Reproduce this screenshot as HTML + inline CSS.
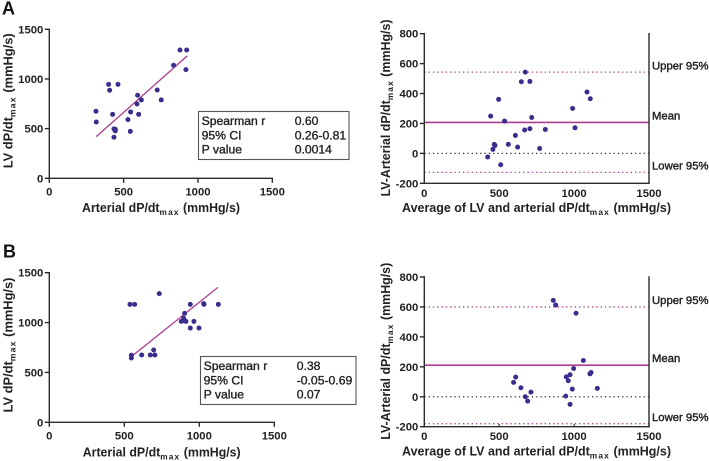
<!DOCTYPE html>
<html>
<head>
<meta charset="utf-8">
<style>
html,body{margin:0;padding:0;background:#fff;width:709px;height:461px;overflow:hidden}
svg{display:block;filter:blur(.3px)}
text{font-family:"Liberation Sans",sans-serif;fill:#222}
.tick{font-size:11.3px;font-weight:bold}
.title{font-size:12.7px;font-weight:bold}
.stat{font-size:12.2px;stroke:#222;stroke-width:.35px}
.ref{font-size:11.3px;stroke:#222;stroke-width:.4px}
.panel{font-size:18px;font-weight:bold;fill:#111}
</style>
</head>
<body>
<svg id="chart" xmlns="http://www.w3.org/2000/svg" width="709" height="461" viewBox="0 0 709 461"></svg>
<script>
const xTicksAll = [0, 500, 1000, 1500];
const yTicksCorr = [0, 500, 1000, 1500];
const yTicksDiff = [-200, 0, 200, 400, 600, 800];

const corrAX = [314,316,399,406,462,426,529,547,545,594,590,601,619,435,435,444,444,726,753,836,879,924,919];
const corrAY = [675,567,946,886,946,644,591,668,473,836,748,644,789,413,497,493,477,889,789,1138,1292,1292,1094];
const fitAX = [316, 928];
const fitAY = [420, 1232];
const statsALabels = ['Spearman r', '95% CI', 'P value'];
const statsAValues = ['0.60', '0.26-0.81', '0.0014'];

const diffAX = [423,443,458,467,472,496,510,536,561,608,623,648,674,705,670,705,717,770,808,990,1006,1086,1108];
const diffAY = [-24,249,27,60,53,361,-76,216,60,120,42,479,543,481,156,165,240,33,160,301,171,410,365];
const limitsA = [543, 207, 0, -127];

const corrBX = [538,569,733,547,547,616,673,704,696,880,896,898,911,902,940,1029,1031,1127,964,940,998];
const corrBY = [1183,1183,1290,672,645,675,675,675,725,1012,1042,1019,1012,1092,1183,1190,1183,1183,1012,945,945];
const fitBX = [547, 1124];
const fitBY = [658, 1353];
const statsBLabels = ['Spearman r', '95% CI', 'P value'];
const statsBValues = ['0.38', '-0.05-0.69', '0.07'];

const diffBX = [596,610,645,674,690,712,861,877,1013,944,948,961,973,973,988,997,1062,1106,1113,1155];
const diffBY = [96,131,60,0,-29,31,644,613,558,4,133,107,147,-51,51,189,242,153,162,56];
const limitsB = [600, 211, 0, -180];

const limitNames = ['Upper 95%', 'Mean', '', 'Lower 95%'];

const NS = 'http://www.w3.org/2000/svg';
const root = document.getElementById('chart');
const AXIS = '#2b2b2b', DOT = '#3a2e8c', FIT = '#ad3d8e';

function make(tag, attrs, parent) {
  const el = document.createElementNS(NS, tag);
  for (const k in attrs) el.setAttribute(k, attrs[k]);
  (parent || root).appendChild(el);
  return el;
}
function scale(d0, d1, r0, r1) {
  return v => r0 + (v - d0) * (r1 - r0) / (d1 - d0);
}
function addText(parent, x, y, str, cls, anchor, name) {
  const t = make('text', {x: x, y: y, class: cls, 'text-anchor': anchor || 'start'}, parent);
  
  
  t.textContent = str;
  return t;
}
function addTitle(parent, x, y, before, after, rotate, length, name) {
  const t = make('text', {class: 'title', 'text-anchor': 'middle'}, parent);
  
  
  const a = make('tspan', {}, t); a.textContent = before;
  const b = make('tspan', {dy: 3, style: 'font-size:8.5px;letter-spacing:1.2px'}, t); b.textContent = 'max';
  const c = make('tspan', {dy: -3}, t); c.textContent = after;
  const k = length / t.getComputedTextLength();
  t.setAttribute('transform', 'translate(' + x + ',' + y + ')' + (rotate ? ' rotate(-90)' : '') + ' scale(' + k + ',1)');
}
function line(parent, x1, y1, x2, y2, color, w, dash, name) {
  const attrs = {x1: x1, y1: y1, x2: x2, y2: y2, stroke: color, 'stroke-width': w};
  if (dash) attrs['stroke-dasharray'] = dash;
  const l = make('line', attrs, parent);
  
  
  return l;
}
function dots(parent, xs, ys, sx, sy, name) {
  xs.forEach((v, i) => {
    const c = make('circle', {cx: sx(v), cy: sy(ys[i]), r: 2.5, fill: DOT}, parent);
    
    
  });
}

function corrPanel(o) {
  const g = make('g', {});
  
  
  const sx = scale(0, 1500, o.x0, o.x1), sy = scale(0, 1500, o.y0, o.y1);
  line(g, o.x0, o.y0 + 0.7, o.x0, o.y1 - 0.7, AXIS, 1.4, null, 'y-axis');
  line(g, o.x0 - 0.7, o.y0, o.x1 + 0.7, o.y0, AXIS, 1.4, null, 'x-axis');
  yTicksCorr.forEach(v => {
    line(g, o.x0 - 4.5, sy(v), o.x0, sy(v), AXIS, 1.4, null, 'y-tick');
    addText(g, o.x0 - 6, sy(v) + 4, v, 'tick', 'end', 'y-tick-label');
  });
  xTicksAll.forEach(v => {
    line(g, sx(v), o.y0, sx(v), o.y0 + 4.5, AXIS, 1.4, null, 'x-tick');
    addText(g, sx(v), o.y0 + 17, v, 'tick', 'middle', 'x-tick-label');
  });
  addTitle(g, o.xTitleX, o.xTitleY, 'Arterial dP/dt', ' (mmHg/s)', false, 158, 'x-axis-title');
  addTitle(g, 12.5, o.yTitleY, 'LV dP/dt', ' (mmHg/s)', true, 135, 'y-axis-title');
  line(g, sx(o.fitX[0]), sy(o.fitY[0]), sx(o.fitX[1]), sy(o.fitY[1]), FIT, 1.3, null, 'fit-line');
  dots(g, o.xs, o.ys, sx, sy, 'data-point');
  const r = make('rect', {x: o.box[0], y: o.box[1], width: o.box[2], height: o.box[3], fill: '#fff', stroke: '#555', 'stroke-width': 1.1}, g);
  
  
  o.labels.forEach((s, i) => {
    const y = o.box[1] + 13.7 + i * 14.2;
    addText(g, o.box[0] + 3.1, y, s, 'stat', 'start', 'stat-label');
    addText(g, o.box[0] + 96.2, y, o.values[i], 'stat', 'start', 'stat-value');
  });
  addText(root, o.lx, o.ly, o.letter, 'panel', 'start', 'panel-label');
}

function diffPanel(o) {
  const g = make('g', {});
  
  
  const sx = scale(0, 1500, o.x0, o.x1), sy = scale(-200, 800, o.y0, o.y1);
  o.limits.forEach((v, i) => {
    if (i === 1) line(g, o.x0, sy(v), o.x1, sy(v), FIT, 1.7, null, 'mean-line');
    else if (i === 2) line(g, o.x0, sy(v), o.x1, sy(v), '#333', 1.3, '1.3 3', 'zero-line');
    else line(g, o.x0, sy(v), o.x1, sy(v), FIT, 1.3, '1.3 3', 'limit-line');
    if (limitNames[i]) addText(g, o.x1 + 3, sy(v) + o.labelDy[i], limitNames[i], 'ref', 'start', 'limit-label');
  });
  line(g, o.x0, o.y0 + 0.7, o.x0, o.y1 - 0.7, AXIS, 1.4, null, 'y-axis');
  line(g, o.x1, o.y0 + 0.7, o.x1, o.y1 - 0.7, AXIS, 1.4, null, 'right-axis');
  line(g, o.x0 - 0.7, o.y0, o.x1 + 0.7, o.y0, AXIS, 1.4, null, 'x-axis');
  yTicksDiff.forEach(v => {
    line(g, o.x0 - 4.5, sy(v), o.x0, sy(v), AXIS, 1.4, null, 'y-tick');
    addText(g, o.x0 - 6, sy(v) + 4, v, 'tick', 'end', 'y-tick-label');
  });
  xTicksAll.forEach(v => {
    if (o.inner) line(g, sx(v), o.y0 - 2.5, sx(v), o.y0, AXIS, 1.2, null, 'x-tick');
    addText(g, sx(v), o.y0 + 13.5, v, 'tick', 'middle', 'x-tick-label');
  });
  addTitle(g, 536.5, o.y0 + 28.6, 'Average of LV and arterial dP/dt', ' (mmHg/s)', false, 269, 'x-axis-title');
  addTitle(g, 390, o.yTitleY, 'LV-Arterial dP/dt', ' (mmHg/s)', true, 177, 'y-axis-title');
  dots(g, o.xs, o.ys, sx, sy, 'data-point');
}

corrPanel({name:'panel-a-correlation', x0:49.3, x1:272.3, y0:178.3, y1:29.3, xs:corrAX, ys:corrAY, fitX:fitAX, fitY:fitAY,
  box:[198.5,111.5,150.5,48], labels:statsALabels, values:statsAValues, letter:'A', lx:2, ly:14.7,
  xTitleX:161, xTitleY:212, yTitleY:100.8});
diffPanel({name:'panel-a-agreement', x0:424.3, x1:649, y0:183.3, y1:33.7, xs:diffAX, ys:diffAY, limits:limitsA, inner:false,
  labelDy:[-2.5,-3,0,-3], yTitleY:108});
corrPanel({name:'panel-b-correlation', x0:49.3, x1:274.3, y0:422.3, y1:272.7, xs:corrBX, ys:corrBY, fitX:fitBX, fitY:fitBY,
  box:[200.5,356.5,155.5,48], labels:statsBLabels, values:statsBValues, letter:'B', lx:3, ly:257.3,
  xTitleX:161.7, xTitleY:456.7, yTitleY:345});
diffPanel({name:'panel-b-agreement', x0:424.3, x1:649, y0:426.7, y1:277, xs:diffBX, ys:diffBY, limits:limitsB, inner:true,
  labelDy:[-3,-3,0,-2.7], yTitleY:351.3});
</script>
</body>
</html>
